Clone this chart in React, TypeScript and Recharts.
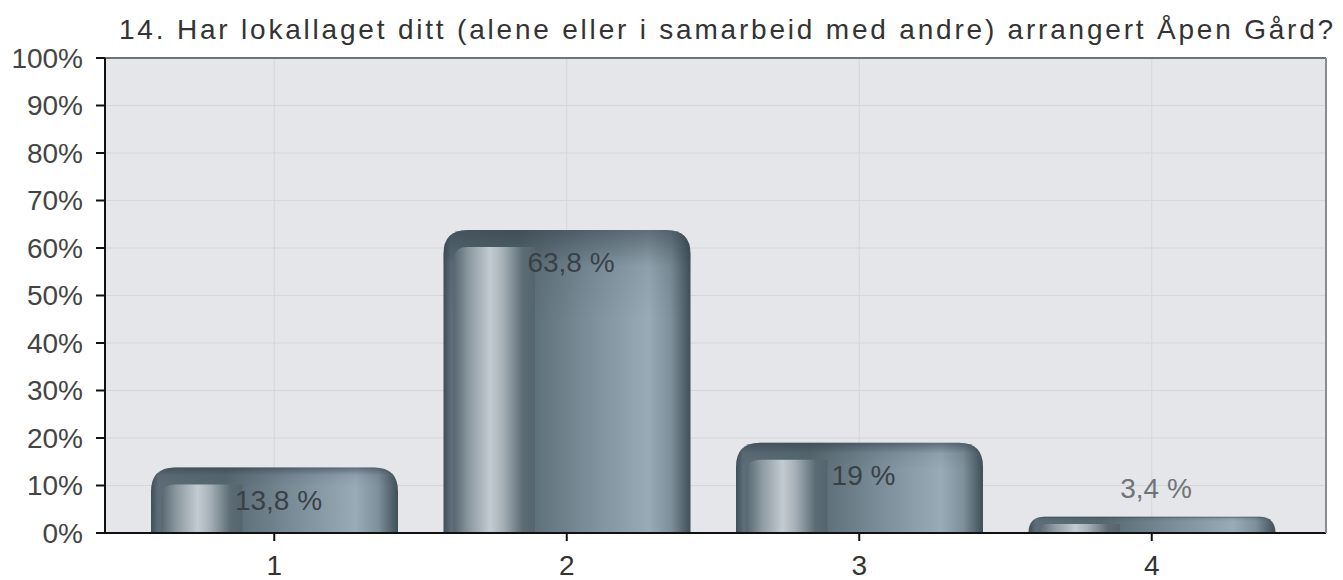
import React from 'react';
import { BarChart, Bar, XAxis, YAxis, CartesianGrid, LabelList, ReferenceLine } from 'recharts';

const categories = ['1', '2', '3', '4'];
const values = [13.8, 63.8, 19, 3.4];
const valueLabels = ['13,8 %', '63,8 %', '19 %', '3,4 %'];
const yTicks = [0, 10, 20, 30, 40, 50, 60, 70, 80, 90, 100];
const title = '14. Har lokallaget ditt (alene eller i samarbeid med andre) arrangert Åpen Gård?';

const data = categories.map((c, i) => ({ name: c, value: values[i], label: valueLabels[i] }));

const FONT = '"Liberation Sans", Arial, sans-serif';

const BarShape = (props: any) => {
  const { x, y, width, height } = props;
  if (!height || height <= 0) return null;
  const r = Math.min(24, height, width / 2);
  const path = `M${x},${y + height} L${x},${y + r} Q${x},${y} ${x + r},${y} L${x + width - r},${y} Q${x + width},${y} ${x + width},${y + r} L${x + width},${y + height} Z`;
  const ix = x + 10;
  const iy = y + Math.min(17, height * 0.45);
  const iw = width * 0.33;
  const ih = y + height - iy;
  const ir = Math.min(14, ih);
  const inner = `M${ix},${y + height} L${ix},${iy + ir} Q${ix},${iy} ${ix + ir},${iy} L${ix + iw},${iy} L${ix + iw},${y + height} Z`;
  return (
    <g>
      <path d={path} fill="url(#barGrad)" />
      <path d={path} fill="url(#topShade)" />
      <path d={inner} fill="url(#innerGrad)" />
    </g>
  );
};

const renderLabel = (props: any) => {
  const { x, y, width, height, index } = props;
  const inside = height > 40;
  const ty = inside ? y + 33 : y - 28;
  return (
    <text
      x={x + width / 2 + 4}
      y={ty}
      textAnchor="middle"
      fill={inside ? '#3a4146' : '#707478'}
      fontSize={28}
      fontFamily={FONT}
      dominantBaseline="central"
    >
      {valueLabels[index]}
    </text>
  );
};

export default function App() {
  return (
    <div style={{ position: 'absolute', left: 0, top: 0, width: 1343, height: 580, background: '#fff', overflow: 'hidden' }}>
      <div
        style={{
          position: 'absolute',
          left: 119,
          top: 14,
          fontFamily: FONT,
          fontSize: 28,
          lineHeight: 'normal',
          letterSpacing: 2.8,
          color: '#333',
          whiteSpace: 'nowrap',
        }}
      >
        {title}
      </div>
      <BarChart
        width={1343}
        height={580}
        data={data}
        margin={{ top: 58, right: 16, bottom: 0, left: 0 }}
        barSize={247}
      >
        <defs>
          <linearGradient id="barGrad" x1="0" y1="0" x2="1" y2="0">
            <stop offset="0" stopColor="#3f4f59" />
            <stop offset="0.03" stopColor="#5d6e78" />
            <stop offset="0.3" stopColor="#56676f" />
            <stop offset="0.55" stopColor="#768994" />
            <stop offset="0.83" stopColor="#98abb7" />
            <stop offset="0.92" stopColor="#7e909b" />
            <stop offset="1" stopColor="#3f4f58" />
          </linearGradient>
          <linearGradient id="topShade" x1="0" y1="0" x2="0" y2="1" gradientUnits="objectBoundingBox">
            <stop offset="0" stopColor="#2e3c45" stopOpacity="0.55" />
            <stop offset="0.12" stopColor="#2e3c45" stopOpacity="0.1" />
            <stop offset="0.3" stopColor="#2e3c45" stopOpacity="0" />
          </linearGradient>
          <linearGradient id="innerGrad" x1="0" y1="0" x2="1" y2="0">
            <stop offset="0" stopColor="#56666f" />
            <stop offset="0.2" stopColor="#8e9ba2" />
            <stop offset="0.45" stopColor="#c2cbd0" />
            <stop offset="0.6" stopColor="#a7b2b8" />
            <stop offset="0.85" stopColor="#5c6c75" />
            <stop offset="1" stopColor="#54656e" />
          </linearGradient>
        </defs>
        <CartesianGrid yAxisId="left" stroke="#d4d6d8" fill="#e4e6e9" strokeWidth={1} />
        <XAxis
          dataKey="name"
          padding={{ left: 23, right: 28 }}
          height={47}
          axisLine={{ stroke: '#111', strokeWidth: 2 }}
          tickLine={{ stroke: '#111', strokeWidth: 2 }}
          tickSize={8}
          tick={{ fill: '#333', fontSize: 28, fontFamily: FONT, dy: 12 }}
        />
        <YAxis
          yAxisId="left"
          type="number"
          domain={[0, 100]}
          ticks={yTicks}
          interval={0}
          width={105}
          tickFormatter={(v: number) => `${v}%`}
          axisLine={{ stroke: '#111', strokeWidth: 2 }}
          tickLine={{ stroke: '#111', strokeWidth: 2 }}
          tickSize={9}
          tick={{ fill: '#444', fontSize: 28, fontFamily: FONT, dx: -11 }}
        />
        <YAxis
          yAxisId="right"
          orientation="right"
          type="number"
          domain={[0, 100]}
          width={1}
          tick={false}
          tickLine={false}
          axisLine={{ stroke: '#8a8d90', strokeWidth: 2 }}
        />
        <ReferenceLine yAxisId="left" y={100} stroke="#6f7376" strokeWidth={2} />
        <Bar yAxisId="left" dataKey="value" shape={<BarShape />} isAnimationActive={false}>
          <LabelList dataKey="label" content={renderLabel} />
        </Bar>
      </BarChart>
    </div>
  );
}
